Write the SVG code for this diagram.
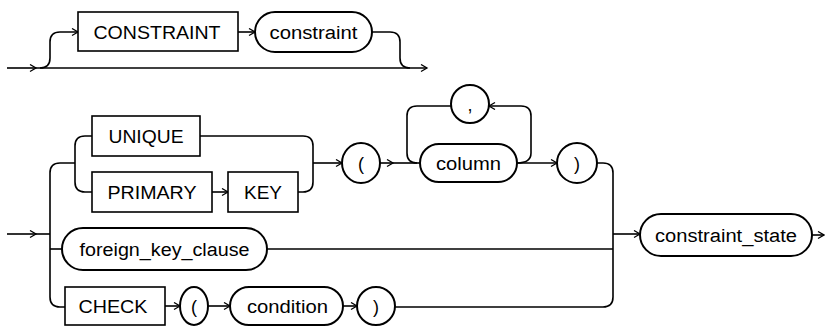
<svg xmlns="http://www.w3.org/2000/svg" width="825" height="327" viewBox="0 0 825 327">
<style>
.bg{fill:#ffffff}
.box{fill:#ffffff;stroke:#000;stroke-width:1.6}
.term{fill:#ffffff;stroke:#000;stroke-width:2}
.ln{fill:none;stroke:#000;stroke-width:1.6}
.t{font-family:"Liberation Sans",Arial,sans-serif;font-size:18px;fill:#000;text-anchor:middle}
</style>
<defs>
<marker id="ar" markerUnits="userSpaceOnUse" markerWidth="10" markerHeight="10" refX="7" refY="4" orient="auto">
<path d="M1,0.5 L7,4 L1,7.5" fill="none" stroke="#000" stroke-width="1.3"/>
</marker>
</defs>
<rect class="bg" x="0" y="0" width="825" height="327"/>

<g id="connectors">
<!-- top diagram -->
<path class="ln" d="M7,68 H36" marker-end="url(#ar)"/>
<path class="ln" d="M36,68 H427" marker-end="url(#ar)"/>
<path class="ln" d="M40,68 Q50,68 50,58 V42 Q50,32 60,32 H78" marker-end="url(#ar)"/>
<path class="ln" d="M238,32 H255" marker-end="url(#ar)"/>
<path class="ln" d="M372,32 H390 Q400,32 400,42 V58 Q400,68 410,68"/>
<!-- main diagram -->
<path class="ln" d="M7,234 H36" marker-end="url(#ar)"/>
<path class="ln" d="M36,234 H50"/>
<path class="ln" d="M75,163 H60 Q50,163 50,173 V297 Q50,307 60,307 H65"/>
<path class="ln" d="M50,249 H62"/>
<path class="ln" d="M92,136 H85 Q75,136 75,146 V182 Q75,192 85,192 H92"/>
<path class="ln" d="M212,192 H228" marker-end="url(#ar)"/>
<path class="ln" d="M200,136 H303 Q313,136 313,146 V182 Q313,192 303,192 H298"/>
<path class="ln" d="M313,163 H342" marker-end="url(#ar)"/>
<path class="ln" d="M380,163 H393" marker-end="url(#ar)"/>
<path class="ln" d="M393,163 H420"/>
<path class="ln" d="M451,106 H417 Q407,106 407,116 V153 Q407,163 417,163"/>
<path class="ln" d="M517,163 Q531,163 531,153 V116 Q531,106 521,106 H489" marker-end="url(#ar)"/>
<path class="ln" d="M517,163 H557" marker-end="url(#ar)"/>
<path class="ln" d="M597,163 H603 Q613,163 613,173 V297 Q613,307 603,307 H395"/>
<path class="ln" d="M267,249 H613"/>
<path class="ln" d="M613,234 H640" marker-end="url(#ar)"/>
<path class="ln" d="M812,235 H824" marker-end="url(#ar)"/>
<path class="ln" d="M165,306 H180" marker-end="url(#ar)"/>
<path class="ln" d="M208,306 H230" marker-end="url(#ar)"/>
<path class="ln" d="M343,306 H357" marker-end="url(#ar)"/>
</g>

<g id="n_CONSTRAINT">
<rect class="box" x="78" y="12" width="160" height="39"/>
<text class="t" x="157" y="38.5" textLength="127" lengthAdjust="spacingAndGlyphs">CONSTRAINT</text>
</g>
<g id="n_constraint">
<rect class="term" x="255" y="12" width="117" height="40" rx="20" ry="20"/>
<text class="t" x="313.5" y="38.5" textLength="88" lengthAdjust="spacingAndGlyphs">constraint</text>
</g>

<g id="n_UNIQUE">
<rect class="box" x="92" y="116" width="108" height="40"/>
<text class="t" x="146" y="142.5" textLength="75" lengthAdjust="spacingAndGlyphs">UNIQUE</text>
</g>
<g id="n_PRIMARY">
<rect class="box" x="92" y="172" width="120" height="40"/>
<text class="t" x="152" y="198.5" textLength="89" lengthAdjust="spacingAndGlyphs">PRIMARY</text>
</g>
<g id="n_KEY">
<rect class="box" x="228" y="172" width="70" height="40"/>
<text class="t" x="263" y="198.5" textLength="38" lengthAdjust="spacingAndGlyphs">KEY</text>
</g>
<g id="n_lparen1">
<rect class="term" x="342" y="143" width="38" height="40" rx="19" ry="20"/>
<text class="t" x="361" y="169.5">(</text>
</g>
<g id="n_comma">
<rect class="term" x="451" y="85" width="38" height="38" rx="19" ry="19"/>
<text class="t" x="470" y="110.5">,</text>
</g>
<g id="n_column">
<rect class="term" x="420" y="144" width="97" height="38" rx="19" ry="19"/>
<text class="t" x="468.5" y="169.5" textLength="65" lengthAdjust="spacingAndGlyphs">column</text>
</g>
<g id="n_rparen1">
<rect class="term" x="557" y="143" width="40" height="40" rx="20" ry="20"/>
<text class="t" x="577" y="169.5">)</text>
</g>
<g id="n_foreign_key_clause">
<rect class="term" x="62" y="228" width="205" height="42" rx="21" ry="21"/>
<text class="t" x="164.5" y="255.5" textLength="170" lengthAdjust="spacingAndGlyphs">foreign_key_clause</text>
</g>
<g id="n_CHECK">
<rect class="box" x="65" y="287" width="100" height="38"/>
<text class="t" x="113" y="312.5" textLength="69" lengthAdjust="spacingAndGlyphs">CHECK</text>
</g>
<g id="n_lparen2">
<rect class="term" x="180" y="287" width="28" height="38" rx="14" ry="19"/>
<text class="t" x="194" y="312.5">(</text>
</g>
<g id="n_condition">
<rect class="term" x="230" y="287" width="113" height="38" rx="19" ry="19"/>
<text class="t" x="287.5" y="312.5" textLength="81" lengthAdjust="spacingAndGlyphs">condition</text>
</g>
<g id="n_rparen2">
<rect class="term" x="357" y="287" width="38" height="38" rx="19" ry="19"/>
<text class="t" x="376" y="312.5">)</text>
</g>
<g id="n_constraint_state">
<rect class="term" x="640" y="214" width="172" height="42" rx="21" ry="21"/>
<text class="t" x="726" y="241.5" textLength="142" lengthAdjust="spacingAndGlyphs">constraint_state</text>
</g>
</svg>
